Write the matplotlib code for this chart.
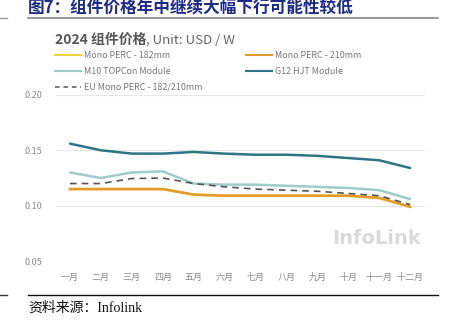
import numpy as np
import matplotlib
matplotlib.use("Agg")
import matplotlib.pyplot as plt
from matplotlib.lines import Line2D

plt.rcParams['font.family'] = ['Noto Sans CJK SC', 'DejaVu Sans']

months = ['一月', '二月', '三月', '四月', '五月', '六月',
          '七月', '八月', '九月', '十月', '十一月', '十二月']
perc_182 = [0.115, 0.115, 0.115, 0.115, 0.110, 0.109, 0.109, 0.109, 0.109, 0.109, 0.107, 0.099]
perc_210 = [0.115, 0.115, 0.115, 0.115, 0.110, 0.109, 0.109, 0.109, 0.109, 0.109, 0.107, 0.099]
topcon = [0.130, 0.125, 0.130, 0.131, 0.120, 0.119, 0.119, 0.118, 0.117, 0.116, 0.114, 0.106]
hjt = [0.156, 0.150, 0.147, 0.147, 0.1485, 0.147, 0.146, 0.146, 0.145, 0.143, 0.141, 0.134]
eu_perc = [0.120, 0.120, 0.1245, 0.125, 0.120, 0.117, 0.115, 0.114, 0.113, 0.111, 0.109, 0.101]
yticks = [0.05, 0.10, 0.15, 0.20]

c_yellow = '#f3d23c'
c_orange = '#e39a2d'
c_topcon = '#9fcbc9'
c_hjt = '#2f7485'
c_eu = '#555555'

fig = plt.figure(figsize=(4.56, 3.33), dpi=100)
ax = fig.add_axes([0.123, 0.216, 0.809, 0.499])

x = np.arange(len(months))
ax.plot(x, hjt, color=c_hjt, lw=1.8, solid_capstyle='round')
ax.plot(x, topcon, color=c_topcon, lw=1.8, solid_capstyle='round')
ax.plot(x, perc_182, color=c_yellow, lw=1.8)
ax.plot(x, perc_210, color=c_orange, lw=1.8)
ax.plot(x, eu_perc, color=c_eu, lw=1.2, ls=(0, (4, 3)))

ax.set_xlim(-0.45, 11.48)
ax.set_ylim(0.05, 0.20)
ax.set_yticks(yticks)
ax.set_yticklabels(['%.2f' % v for v in yticks])
ax.set_xticks(x)
ax.set_xticklabels(months)
ax.grid(axis='y', color='#e6e6e6', lw=0.8)
ax.set_axisbelow(True)
for s in ax.spines.values():
    s.set_visible(False)
ax.tick_params(length=0, labelsize=6.5, colors='#8a8a8a')
ax.tick_params(axis='y', pad=10)
ax.tick_params(axis='x', pad=13.5)
for lbl in ax.get_xticklabels():
    lbl.set_va('baseline')

ax.text(0.99, 0.135, 'InfoLink', transform=ax.transAxes, ha='right', va='center',
        fontsize=14, fontweight='bold', color='#dadada', family='DejaVu Sans')

# chart title
t1 = fig.text(55 / 456, 1 - 40 / 333, '2024 组件价格', fontsize=10, fontweight='bold',
              color='#555555', va='center')
fig.canvas.draw()
bb = t1.get_window_extent()
fig.text(bb.x1 / fig.bbox.width, 1 - 40 / 333, ', Unit: USD / W', fontsize=9.5,
         color='#666666', va='center')

# legend
legend = [('Mono PERC - 182mm', c_yellow, '-', 55, 55),
          ('Mono PERC - 210mm', c_orange, '-', 246, 55),
          ('M10 TOPCon Module', c_topcon, '-', 55, 71),
          ('G12 HJT Module', c_hjt, '-', 246, 71),
          ('EU Mono PERC - 182/210mm', c_eu, (0, (3, 2.5)), 55, 87)]
for name, col, ls, px, py in legend:
    yy = 1 - py / 333
    fig.add_artist(Line2D([px / 456, (px + 26) / 456], [yy, yy], color=col,
                          lw=1.5 if ls == '-' else 1.1, ls=ls))
    fig.text((px + 29) / 456, yy, name, fontsize=6.4, color='#777777', va='center')

# page title and rules
fig.text(28 / 456, 1 - 8.5 / 333, '图7：组件价格年中继续大幅下行可能性较低', fontsize=12,
         fontweight='bold', color='#1d2a86', va='center')
fig.add_artist(Line2D([28 / 456, 438 / 456], [1 - 17.5 / 333] * 2, color='#888888', lw=1.2))
fig.add_artist(Line2D([0, 7 / 456], [1 - 17.5 / 333] * 2, color='#999999', lw=1.0))
fig.add_artist(Line2D([28 / 456, 438 / 456], [1 - 295 / 333] * 2, color='#111111', lw=1.0))
fig.add_artist(Line2D([0, 7 / 456], [1 - 295 / 333] * 2, color='#333333', lw=1.0))
fig.text(28 / 456, 1 - 308 / 333, '资料来源：Infolink', fontsize=10, color='#111111',
         va='center', family=['Liberation Serif', 'Noto Sans CJK SC'])

fig.savefig('out.png', dpi=100, facecolor='white')
